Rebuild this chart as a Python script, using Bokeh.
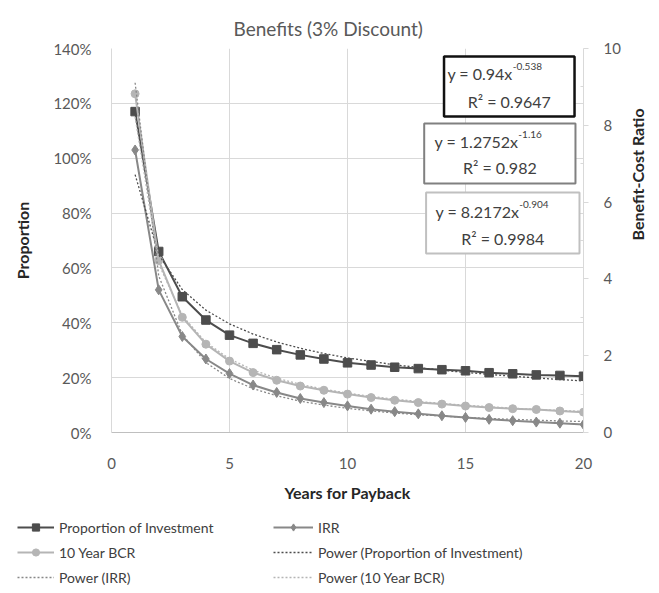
import math
import numpy as np
from bokeh.plotting import figure
from bokeh.layouts import column
from bokeh.models import (Range1d, LinearAxis, Legend, LegendItem, Label,
                          BoxAnnotation, NumeralTickFormatter, FixedTicker)
from bokeh.embed import file_html
from bokeh.resources import INLINE

# ---------------- data ----------------
years = list(range(1, 21))
proportion = [1.17, 0.66, 0.495, 0.41, 0.355, 0.325, 0.302, 0.283, 0.268, 0.254,
              0.246, 0.238, 0.233, 0.229, 0.225, 0.218, 0.214, 0.21, 0.208, 0.205]
irr = [1.03, 0.52, 0.35, 0.268, 0.215, 0.173, 0.146, 0.124, 0.109, 0.097,
       0.085, 0.076, 0.068, 0.061, 0.055, 0.048, 0.043, 0.038, 0.034, 0.029]
bcr10 = [8.82, 4.48, 3.0, 2.3, 1.86, 1.56, 1.36, 1.21, 1.1, 1.0,
         0.91, 0.84, 0.78, 0.74, 0.69, 0.65, 0.62, 0.6, 0.56, 0.53]
# power trendlines
proportion_trend = [0.940, 0.648, 0.521, 0.446, 0.396, 0.359, 0.330, 0.307, 0.288, 0.272,
                    0.259, 0.247, 0.237, 0.227, 0.219, 0.212, 0.205, 0.199, 0.193, 0.188]
irr_trend = [1.275, 0.571, 0.357, 0.255, 0.197, 0.160, 0.134, 0.114, 0.100, 0.088,
             0.079, 0.071, 0.065, 0.060, 0.055, 0.051, 0.048, 0.045, 0.042, 0.040]
bcr10_trend = [8.217, 4.391, 3.044, 2.347, 1.918, 1.626, 1.415, 1.254, 1.127, 1.025,
               0.940, 0.869, 0.809, 0.756, 0.711, 0.671, 0.635, 0.602, 0.574, 0.548]

x_ticks = [0, 5, 10, 15, 20]
left_ticks = [0, 0.2, 0.4, 0.6, 0.8, 1.0, 1.2, 1.4]
right_ticks = [0, 2, 4, 6, 8, 10]
right_minor = [1, 3, 5, 7, 9]

eq_main = ["y = 0.94x", "y = 1.2752x", "y = 8.2172x"]
eq_sup = ["-0.538", "-1.16", "-0.904"]
eq_r2 = ["R\u00b2 = 0.9647", "R\u00b2 = 0.982", "R\u00b2 = 0.9984"]

FONT = "Lato"
C_PROP = "#4d4d4d"
C_IRR = "#888888"
C_BCR = "#b5b5b5"
GRID = "#d9d9d9"
TXT = "#595959"
DOT = "2 2"

W = 659
H_MAIN = 512
H_LEG = 593 - H_MAIN

p = figure(width=W, height=H_MAIN, x_range=Range1d(0, 20), y_range=Range1d(0, 1.4),
           output_backend="svg", toolbar_location=None,
           min_border_left=111, min_border_right=74, min_border_top=48,
           min_border_bottom=H_MAIN - 432)
p.outline_line_color = None
p.extra_y_ranges = {"bcr": Range1d(0, 10)}
p.frame_align = False

p.title.text = "Benefits (3% Discount)"
p.title.align = "left"
p.title.offset = 122
p.title.standoff = 17
p.title.text_font = FONT
p.title.text_font_size = "19px"
p.title.text_font_style = "normal"
p.title.text_color = TXT

# axes
xa = p.xaxis[0]
xa.ticker = FixedTicker(ticks=x_ticks)
xa.axis_label = "Years for Payback"
ya = p.yaxis[0]
ya.ticker = FixedTicker(ticks=left_ticks)
ya.formatter = NumeralTickFormatter(format="0%")
ya.axis_label = "Proportion"
ra = LinearAxis(y_range_name="bcr", axis_label="Benefit-Cost Ratio",
                ticker=FixedTicker(ticks=right_ticks, minor_ticks=right_minor))
p.add_layout(ra, "right")

for ax in (xa, ya, ra):
    ax.major_label_text_font = FONT
    ax.major_label_text_font_size = "15px"
    ax.major_label_text_color = TXT
    ax.axis_label_text_font = FONT
    ax.axis_label_text_font_size = "16px"
    ax.axis_label_text_font_style = "bold"
    ax.axis_label_text_color = "#262626"
    ax.axis_line_color = GRID
    ax.minor_tick_line_color = None
    ax.major_tick_line_color = None
    ax.major_tick_out = 0
    ax.major_tick_in = 0
xa.axis_line_color = "#bfbfbf"
xa.major_label_standoff = 25
xa.axis_label_standoff = 11
ya.major_label_standoff = 20
ya.axis_label_standoff = 18
ra.major_tick_line_color = GRID
ra.major_tick_out = 5
ra.minor_tick_line_color = GRID
ra.minor_tick_out = 0
ra.minor_tick_in = 3
ra.major_label_standoff = 15
ra.axis_label_standoff = 14
ra.axis_label_orientation = math.pi / 2

p.xgrid.ticker = FixedTicker(ticks=x_ticks)
p.ygrid.ticker = FixedTicker(ticks=left_ticks)
p.xgrid.grid_line_color = GRID
p.ygrid.grid_line_color = GRID

# series
p.line(years, proportion, line_color=C_PROP, line_width=2)
p.scatter(years, proportion, marker="square", size=8.5, fill_color=C_PROP, line_color=C_PROP)
p.line(years, irr, line_color=C_IRR, line_width=2)
p.scatter(years, irr, marker="diamond", size=10, fill_color=C_IRR, line_color=C_IRR)
p.line(years, bcr10, line_color=C_BCR, line_width=2, y_range_name="bcr")
p.scatter(years, bcr10, marker="circle", size=8, fill_color=C_BCR, line_color=C_BCR,
          y_range_name="bcr")
p.line(years, proportion_trend, line_color=C_PROP, line_width=1.3, line_dash=DOT)
p.line(years, irr_trend, line_color=C_IRR, line_width=1.3, line_dash=DOT)
p.line(years, bcr10_trend, line_color=C_BCR, line_width=1.3, line_dash=DOT,
       y_range_name="bcr")

# equation boxes
boxes = [
    dict(l=14.09, r=19.62, t=1.371, b=1.152, c="#111111", w=2.5, bx=17.00, y1=1.309, y2=1.207, rx=16.855),
    dict(l=13.25, r=19.66, t=1.127, b=0.908, c="#808080", w=2, bx=17.24, y1=1.061, y2=0.966, rx=16.455),
    dict(l=13.33, r=19.83, t=0.875, b=0.653, c="#c0c0c0", w=2, bx=17.28, y1=0.806, y2=0.707, rx=16.58),
]
for i, b in enumerate(boxes):
    p.add_layout(BoxAnnotation(left=b["l"], right=b["r"], top=b["t"], bottom=b["b"],
                               fill_color="white", fill_alpha=1, line_color=b["c"],
                               line_alpha=1, line_width=b["w"]))
    p.add_layout(Label(x=b["bx"], y=b["y1"], text=eq_main[i], text_font=FONT,
                       text_font_size="16px", text_color="#404040", text_align="right",
                       text_baseline="middle"))
    p.add_layout(Label(x=b["bx"], y=b["y1"] + 0.025, text=eq_sup[i], text_font=FONT,
                       text_font_size="10px", text_color="#404040", text_align="left",
                       text_baseline="middle"))
    p.add_layout(Label(x=b["rx"], y=b["y2"], text=eq_r2[i], text_font=FONT,
                       text_font_size="16px", text_color="#404040", text_align="center",
                       text_baseline="middle"))

# legend strip below the chart (legend swatches only; NaN data draws nothing)
q = figure(width=W, height=H_LEG, x_range=Range1d(0, 1), y_range=Range1d(0, 1),
           output_backend="svg", toolbar_location=None, min_border=0,
           min_border_left=0, min_border_right=0, min_border_top=0, min_border_bottom=0,
           x_axis_location=None, y_axis_location=None)
q.outline_line_color = None
q.grid.visible = False
q.frame_align = False

NAN = np.array([np.nan])

def sample(color, dash=None, marker=None, msize=8):
    rs = []
    if dash:
        rs.append(q.line(NAN, NAN, line_color=color, line_width=1.3, line_dash=dash))
    else:
        rs.append(q.line(NAN, NAN, line_color=color, line_width=2))
    if marker:
        rs.append(q.scatter(NAN, NAN, marker=marker, size=msize, fill_color=color, line_color=color))
    return rs

it_prop = LegendItem(label="Proportion of Investment", renderers=sample(C_PROP, marker="square", msize=8.5))
it_bcr = LegendItem(label="10 Year BCR", renderers=sample(C_BCR, marker="circle"))
it_pirr = LegendItem(label="Power (IRR)", renderers=sample(C_IRR, dash=DOT))
it_irr = LegendItem(label="IRR", renderers=sample(C_IRR, marker="diamond", msize=10))
it_pprop = LegendItem(label="Power (Proportion of Investment)", renderers=sample(C_PROP, dash=DOT))
it_pbcr = LegendItem(label="Power (10 Year BCR)", renderers=sample(C_BCR, dash=DOT))

def make_legend(items, loc, gw):
    lg = Legend(items=items, location=loc, orientation="vertical",
                label_text_font=FONT, label_text_font_size="14px",
                label_text_color="#404040", glyph_width=gw, glyph_height=18,
                label_height=18, spacing=7, label_standoff=5, padding=0, margin=0,
                border_line_alpha=0, background_fill_alpha=0)
    q.add_layout(lg, "center")

make_legend([it_prop, it_bcr, it_pirr], (17, 7), 37)
make_legend([it_irr, it_pprop, it_pbcr], (273, 7), 40)

open("out.html", "w").write(file_html(column(p, q), INLINE))
